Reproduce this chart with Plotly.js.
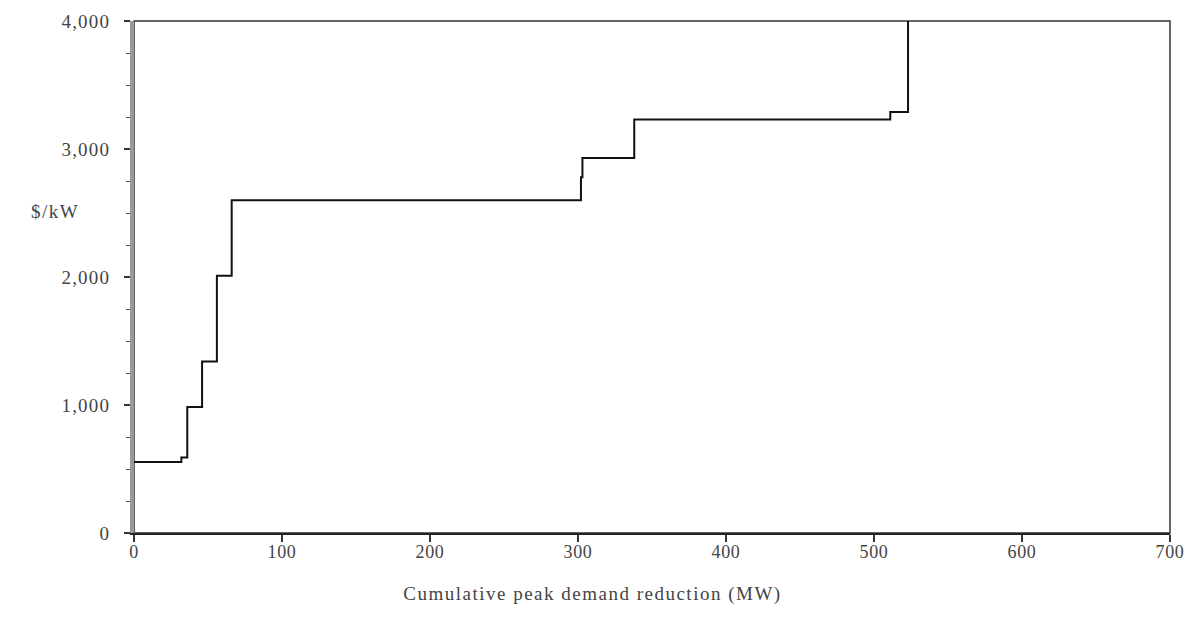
<!DOCTYPE html>
<html>
<head>
<meta charset="utf-8">
<script src="https://cdn.plot.ly/plotly-3.0.1.min.js"></script>
<style>
  html, body { margin: 0; padding: 0; background: #fff; }
  #chart { width: 1186px; height: 631px; }
  .main-svg .annotation text { letter-spacing: 1.5px; }
  .main-svg .ytick text { letter-spacing: 1.2px; }
  .main-svg .xtick text { letter-spacing: 0.6px; }
</style>
</head>
<body>
<div id="chart"></div>
<script>
// Step-curve breakpoints (cumulative MW, $/kW)
const cumulativeMW = [0, 32, 36, 46, 56, 66, 302, 303, 338, 511, 523, 523];
const costPerKW    = [555, 590, 985, 1340, 2010, 2600, 2780, 2930, 3230, 3290, 4000, 4000];

const xTicks = [0, 100, 200, 300, 400, 500, 600, 700];
const yTicks = [0, 1000, 2000, 3000, 4000];

const xTitle = 'Cumulative peak demand reduction (MW)';
const yTitle = '$/kW';

const serif = 'Liberation Serif, Times New Roman, serif';

const trace = {
  x: cumulativeMW,
  y: costPerKW,
  type: 'scatter',
  mode: 'lines',
  line: { shape: 'hv', color: '#111', width: 2 },
  hoverinfo: 'x+y',
  showlegend: false
};

const layout = {
  width: 1186,
  height: 631,
  margin: { l: 134, r: 16, t: 21, b: 98 },
  paper_bgcolor: '#fff',
  plot_bgcolor: '#fff',
  font: { family: serif, size: 19, color: '#444' },
  xaxis: {
    range: [0, 700],
    tickvals: xTicks,
    ticktext: xTicks.map(String),
    ticks: 'outside',
    ticklen: 7,
    tickwidth: 1.3,
    tickcolor: '#333',
    ticklabelstandoff: -6,
    ticklabeloverflow: 'allow',
    showline: true,
    linecolor: '#222',
    linewidth: 2,
    showgrid: false,
    zeroline: false,
    tickfont: { family: serif, size: 18, color: '#444' }
  },
  yaxis: {
    range: [0, 4000],
    tickvals: yTicks,
    ticktext: yTicks.map(v => v.toLocaleString('en-US')),
    ticks: 'outside',
    ticklen: 6,
    tickwidth: 1.3,
    tickcolor: '#333',
    ticklabelstandoff: 10,
    ticklabeloverflow: 'allow',
    minor: { dtick: 250, ticks: 'outside', ticklen: 4, tickwidth: 1, tickcolor: '#444', showgrid: false },
    showline: true,
    linecolor: '#999',
    linewidth: 4,
    showgrid: false,
    zeroline: false,
    tickfont: { family: serif, size: 19, color: '#444' }
  },
  shapes: [
    { type: 'rect', xref: 'paper', yref: 'paper', x0: 0, x1: 1, y0: 0, y1: 1,
      line: { color: '#333', width: 1.5 }, layer: 'below' }
  ],
  annotations: [
    { text: yTitle, xref: 'paper', yref: 'paper', x: -0.076, y: 0.627,
      xanchor: 'center', yanchor: 'middle', showarrow: false,
      font: { family: serif, size: 19, color: '#444' } },
    { text: xTitle, xref: 'paper', yref: 'paper', x: 0.443, y: -0.119,
      xanchor: 'center', yanchor: 'middle', showarrow: false,
      font: { family: serif, size: 19, color: '#444' } }
  ]
};

Plotly.newPlot('chart', [trace], layout, { displayModeBar: false, staticPlot: true });
</script>
</body>
</html>
